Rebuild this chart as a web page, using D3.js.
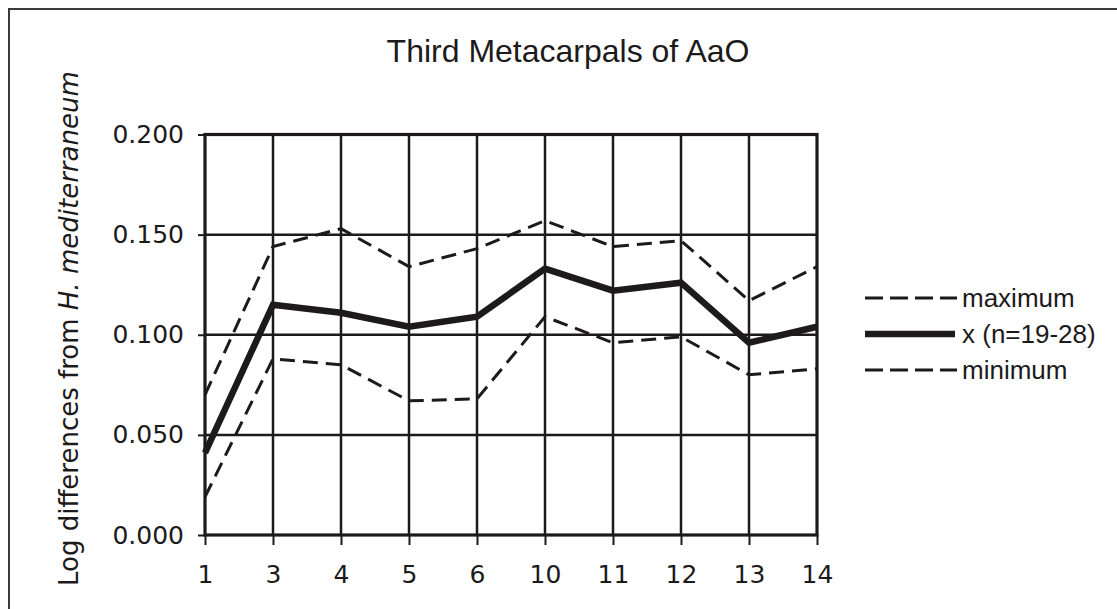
<!DOCTYPE html>
<html>
<head>
<meta charset="utf-8">
<script src="https://cdn.jsdelivr.net/npm/d3@7/dist/d3.min.js"></script>
<style>
  html, body { margin: 0; padding: 0; background: #fff; }
  svg { display: block; }
</style>
</head>
<body>
<svg id="chart" width="1117" height="609"></svg>
<script>
// Sample labels along the horizontal axis
const categories = ["1", "3", "4", "5", "6", "10", "11", "12", "13", "14"];

// Log differences per series
const maxVals  = [0.070, 0.144, 0.153, 0.134, 0.143, 0.157, 0.144, 0.147, 0.117, 0.134];
const meanVals = [0.041, 0.115, 0.111, 0.104, 0.109, 0.133, 0.122, 0.126, 0.096, 0.104];
const minVals  = [0.019, 0.088, 0.085, 0.067, 0.068, 0.109, 0.096, 0.099, 0.080, 0.083];

const yTicks = [0, 0.05, 0.1, 0.15, 0.2];

const legendItems = [
  { label: "maximum", kind: "dash" },
  { label: "x (n=19-28)", kind: "solid" },
  { label: "minimum", kind: "dash" }
];

const ink = "#1c1a1b";
const svg = d3.select("#chart");

// outer frame
svg.append("rect")
  .attr("x", 9).attr("y", 9)
  .attr("width", 1130).attr("height", 630)
  .attr("fill", "none").attr("stroke", "#3a3a3a").attr("stroke-width", 2);

const plot = { left: 205, right: 817, top: 134.5, bottom: 535 };

const x = d3.scalePoint().domain(categories).range([plot.left, plot.right]);
const y = d3.scaleLinear().domain([0, 0.2]).range([plot.bottom, plot.top]);

// horizontal gridlines
svg.append("g").selectAll("line")
  .data(yTicks.filter(t => t > 0 && t < 0.2))
  .join("line")
  .attr("x1", plot.left).attr("x2", plot.right)
  .attr("y1", d => y(d)).attr("y2", d => y(d))
  .attr("stroke", ink).attr("stroke-width", 2.5);

// vertical gridlines
svg.append("g").selectAll("line")
  .data(categories.slice(1, -1))
  .join("line")
  .attr("x1", d => x(d)).attr("x2", d => x(d))
  .attr("y1", plot.top).attr("y2", plot.bottom)
  .attr("stroke", ink).attr("stroke-width", 2.5);

// plot frame
svg.append("rect")
  .attr("x", plot.left).attr("y", plot.top)
  .attr("width", plot.right - plot.left).attr("height", plot.bottom - plot.top)
  .attr("fill", "none").attr("stroke", ink).attr("stroke-width", 3.2);

// y axis
const yAxis = svg.append("g")
  .attr("transform", `translate(${plot.left},0)`)
  .call(d3.axisLeft(y).tickValues(yTicks).tickFormat(d3.format(".3f")).tickSize(7).tickPadding(14));
yAxis.select(".domain").remove();
yAxis.selectAll(".tick line").attr("stroke", ink).attr("stroke-width", 2);
yAxis.selectAll(".tick text")
  .attr("fill", ink)
  .style("font-family", "'DejaVu Sans', Verdana, sans-serif")
  .style("font-size", "25px");

// x axis
const xAxis = svg.append("g")
  .attr("transform", `translate(0,${plot.bottom})`)
  .call(d3.axisBottom(x).tickSize(10).tickPadding(20));
xAxis.select(".domain").remove();
xAxis.selectAll(".tick line").attr("stroke", ink).attr("stroke-width", 2);
xAxis.selectAll(".tick text")
  .attr("fill", ink)
  .style("font-family", "'DejaVu Sans', Verdana, sans-serif")
  .style("font-size", "25px");

// series lines
const line = d3.line().x((d, i) => x(categories[i])).y(d => y(d));

svg.append("path").datum(maxVals)
  .attr("d", line).attr("fill", "none")
  .attr("stroke", ink).attr("stroke-width", 3)
  .attr("stroke-dasharray", "15,8");

svg.append("path").datum(minVals)
  .attr("d", line).attr("fill", "none")
  .attr("stroke", ink).attr("stroke-width", 3)
  .attr("stroke-dasharray", "15,8");

svg.append("path").datum(meanVals)
  .attr("d", line).attr("fill", "none")
  .attr("stroke", ink).attr("stroke-width", 6.5)
  .attr("stroke-linejoin", "miter");

// title
svg.append("text")
  .attr("x", 568).attr("y", 62)
  .attr("text-anchor", "middle")
  .attr("fill", ink)
  .style("font-family", "'Liberation Sans', Arial, sans-serif")
  .style("font-size", "32px")
  .text("Third Metacarpals of AaO");

// y axis title
const yt = svg.append("text")
  .attr("transform", "translate(78,586) rotate(-90)")
  .attr("fill", ink)
  .style("font-family", "'DejaVu Sans', Verdana, sans-serif")
  .style("font-size", "26px");
yt.append("tspan").text("Log differences from ");
yt.append("tspan").style("font-style", "italic").text("H. mediterraneum");

// legend
const legend = svg.append("g");
const rows = legend.selectAll("g").data(legendItems).join("g")
  .attr("transform", (d, i) => `translate(865,${298 + i * 36})`);
rows.append("line")
  .attr("x1", 0).attr("x2", d => d.kind === "solid" ? 90 : 92)
  .attr("y1", 0).attr("y2", 0)
  .attr("stroke", ink)
  .attr("stroke-width", d => d.kind === "solid" ? 6.5 : 2.8)
  .attr("stroke-dasharray", d => d.kind === "solid" ? null : "18,7");
rows.append("text")
  .attr("x", 97).attr("y", 9)
  .attr("fill", ink)
  .style("font-family", "'Liberation Sans', Arial, sans-serif")
  .style("font-size", "26px")
  .text(d => d.label);
</script>
</body>
</html>
